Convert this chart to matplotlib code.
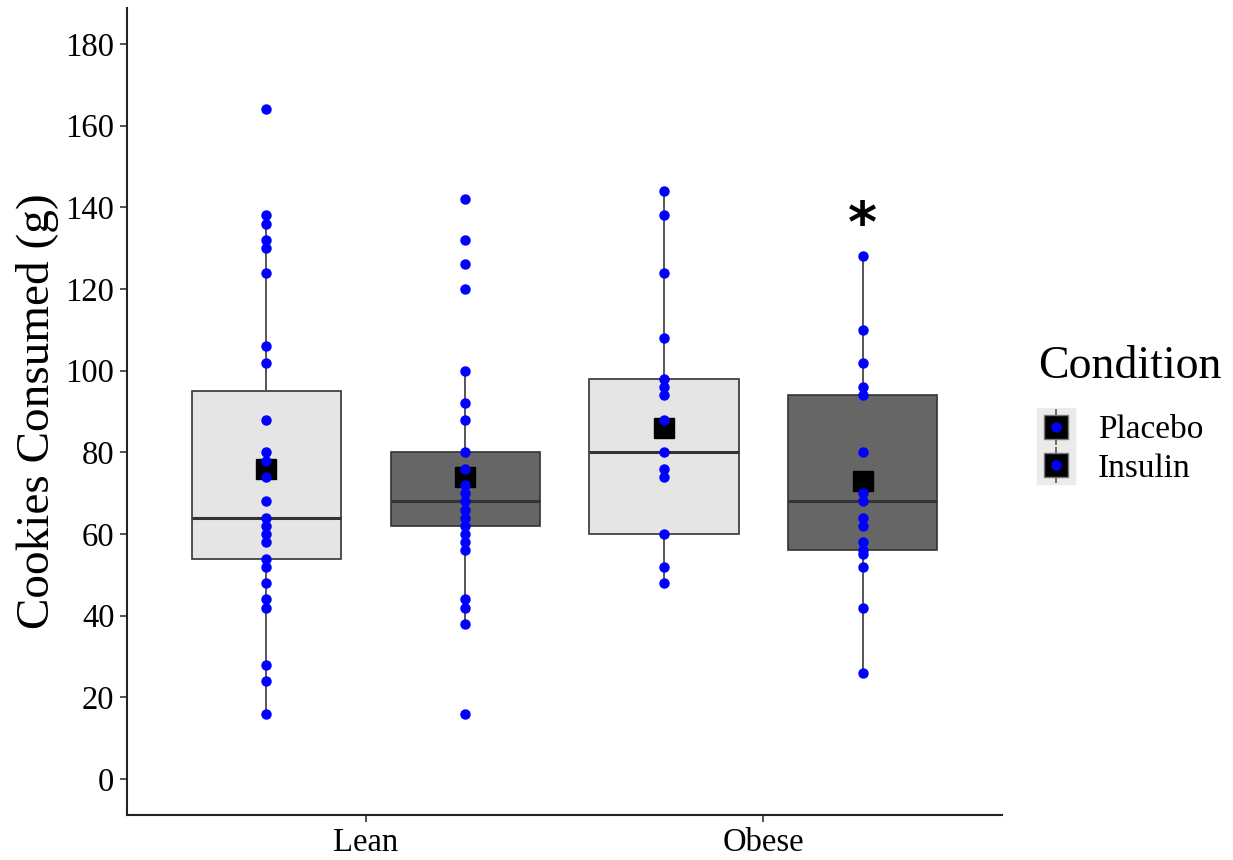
import matplotlib
matplotlib.use("Agg")
import matplotlib.pyplot as plt
from matplotlib.lines import Line2D
from matplotlib.legend_handler import HandlerTuple
import numpy as np

# weight categories and conditions
groups = ["Lean", "Obese"]
conditions = ["Placebo", "Insulin"]

# individual cookie intake (g)
lean_placebo = [164, 138, 136, 132, 130, 124, 106, 102, 88, 80, 78, 74, 68,
                64, 62, 60, 58, 54, 52, 48, 44, 42, 28, 24, 16]
lean_insulin = [142, 132, 126, 120, 100, 92, 88, 80, 76, 72, 70, 68, 66, 64,
                62, 60, 58, 56, 44, 42, 38, 16]
obese_placebo = [144, 138, 124, 108, 98, 96, 94, 88, 80, 76, 74, 60, 52, 48]
obese_insulin = [128, 110, 102, 96, 94, 80, 70, 68, 64, 62, 58, 56, 55, 52,
                 42, 26]

# box summaries, order: lean placebo, lean insulin, obese placebo, obese insulin
q1 = [54, 62, 60, 56]
medians = [64, 68, 80, 68]
q3 = [95, 80, 98, 94]
whisk_lo = [16, 38, 48, 26]
whisk_hi = [138, 100, 144, 128]
means = [76, 74, 86, 73]

plt.rcParams["font.family"] = ["Liberation Serif", "DejaVu Serif"]

fig = plt.figure(figsize=(12.33, 8.6), dpi=100)
ax = fig.add_axes([0.103, 0.0523, 0.7097, 0.9384])

dodge = 0.25
width = 0.375
fills = {"Placebo": "#E5E5E5", "Insulin": "#666666"}

points = [lean_placebo, lean_insulin, obese_placebo, obese_insulin]
positions = []
colors = []
for gi, g in enumerate(groups):
    for ci, c in enumerate(conditions):
        positions.append(gi + 1 + (ci - 0.5) * 2 * dodge)
        colors.append(fills[c])

stats = []
for i in range(4):
    stats.append(dict(q1=q1[i], med=medians[i], q3=q3[i],
                      whislo=whisk_lo[i], whishi=whisk_hi[i], fliers=[]))

bp = ax.bxp(stats, positions=positions, widths=width, patch_artist=True,
            showcaps=False, showfliers=False, zorder=2,
            boxprops=dict(edgecolor="#333333", linewidth=1.2),
            whiskerprops=dict(color="#555555", linewidth=1.4),
            medianprops=dict(color="#333333", linewidth=2.2))
for patch, col in zip(bp["boxes"], colors):
    patch.set_facecolor(col)

# group means
ax.plot(positions, means, linestyle="none", marker="s", markersize=15,
        color="black", zorder=3)

# raw observations
for pos, vals in zip(positions, points):
    ax.plot([pos] * len(vals), vals, linestyle="none", marker="o",
            markersize=6.5, color="#0000FF", zorder=4)

ax.text(positions[3], 135.5, "*", ha="center", va="center", fontsize=40,
        fontweight="bold", family="DejaVu Sans")

ax.set_xlim(0.4, 2.6)
ax.set_ylim(-8.8, 188.8)
ax.set_xticks([1, 2])
ax.set_xticklabels(groups)
ax.set_yticks(np.arange(0, 181, 20))
ax.tick_params(axis="both", labelsize=23.5, length=5, width=1.2,
               color="#333333", labelcolor="black", pad=4)
ax.set_ylabel("Cookies Consumed (g)", fontsize=34, labelpad=5)

for side in ["top", "right"]:
    ax.spines[side].set_visible(False)
for side in ["left", "bottom"]:
    ax.spines[side].set_linewidth(1.5)
    ax.spines[side].set_color("#222222")

# legend keys: grey key background, whisker, mean square, blue point
handles = []
for c in conditions:
    bg = Line2D([], [], linestyle="none", marker="s", markersize=27,
                color="#EBEBEB")
    wh = Line2D([], [], linestyle="none", marker="|", markersize=26,
                markeredgewidth=1.2, color="#555555")
    sq = Line2D([], [], linestyle="none", marker="s", markersize=17,
                markerfacecolor="black", markeredgecolor="#777777")
    dot = Line2D([], [], linestyle="none", marker="o", markersize=6.5,
                 color="#0000FF")
    handles.append((bg, wh, sq, dot))

leg = fig.legend(handles, conditions, title="Condition",
                 handler_map={tuple: HandlerTuple(ndivide=1, pad=0)},
                 loc="upper left", bbox_to_anchor=(0.831, 0.614),
                 frameon=False, fontsize=24, title_fontsize=33,
                 handlelength=1.1, handletextpad=0.7, labelspacing=0.24,
                 borderaxespad=0)
leg._legend_box.align = "left"
leg._legend_box.sep = 19.5

fig.savefig("out.png", dpi=100)
